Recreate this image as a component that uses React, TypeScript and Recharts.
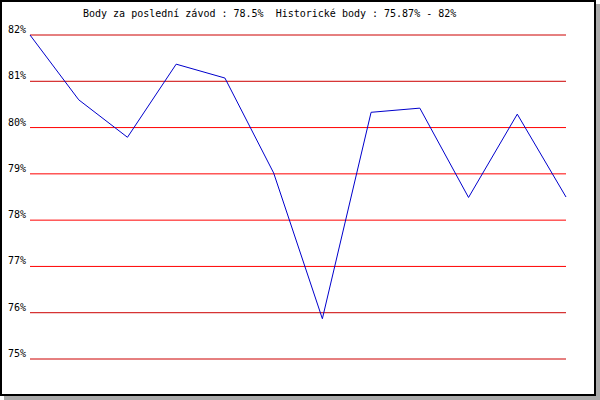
import React from "react";
import { LineChart, Line, XAxis, YAxis, ReferenceLine } from "recharts";

// body z jednotlivých závodů (v %)
const races = ["1", "2", "3", "4", "5", "6", "7", "8", "9", "10", "11", "12"];
const points = [82, 80.6, 79.79, 81.37, 81.07, 79.02, 75.87, 80.33, 80.42, 78.49, 80.29, 78.5];
const yTicks = [75, 76, 77, 78, 79, 80, 81, 82];
const innerBand = [77, 78, 79, 80];

const TITLE = "Body za poslední závod : 78.5%  Historické body : 75.87% - 82%";
const FONT = "'DejaVu Sans Mono', 'Liberation Mono', monospace";

const data = races.map((r, i) => ({ race: r, value: points[i] }));

function YTick(props: any) {
  const { y, payload } = props;
  return (
    <text x={26} y={y - 2} textAnchor="end" fontSize={10} fontFamily={FONT} fill="#000">
      {payload.value}%
    </text>
  );
}

export default function App() {
  return (
    <div style={{ position: "absolute", left: 0, top: 0, width: 600, height: 400, background: "#fff" }}>
      <div
        style={{
          position: "absolute",
          left: 0,
          top: 0,
          width: 596,
          height: 396,
          boxSizing: "border-box",
          border: "2px solid #000",
          boxShadow: "4px 4px 0 #aaaaaa",
          background: "#fff",
        }}
      />
      <div
        style={{
          position: "absolute",
          left: 83,
          top: 8,
          fontFamily: FONT,
          fontSize: 10,
          lineHeight: "12px",
          whiteSpace: "pre",
          color: "#000",
        }}
      >
        {TITLE}
      </div>
      <div style={{ position: "absolute", left: 0, top: 0 }}>
        <LineChart width={600} height={400} data={data} margin={{ top: 35, right: 34, bottom: 41, left: 0 }}>
          <XAxis dataKey="race" hide />
          <YAxis
            domain={[75, 82]}
            ticks={yTicks}
            width={30}
            axisLine={false}
            tickLine={false}
            tick={<YTick />}
            interval={0}
          />
          {yTicks.map((t) => (
            <ReferenceLine key={t} y={t} stroke={innerBand.includes(t) ? "#ff0000" : "#cc0000"} strokeWidth={1} />
          ))}
          <Line
            type="linear"
            dataKey="value"
            stroke="#0000cc"
            strokeWidth={1}
            dot={false}
            activeDot={false}
            isAnimationActive={false}
          />
        </LineChart>
      </div>
    </div>
  );
}
